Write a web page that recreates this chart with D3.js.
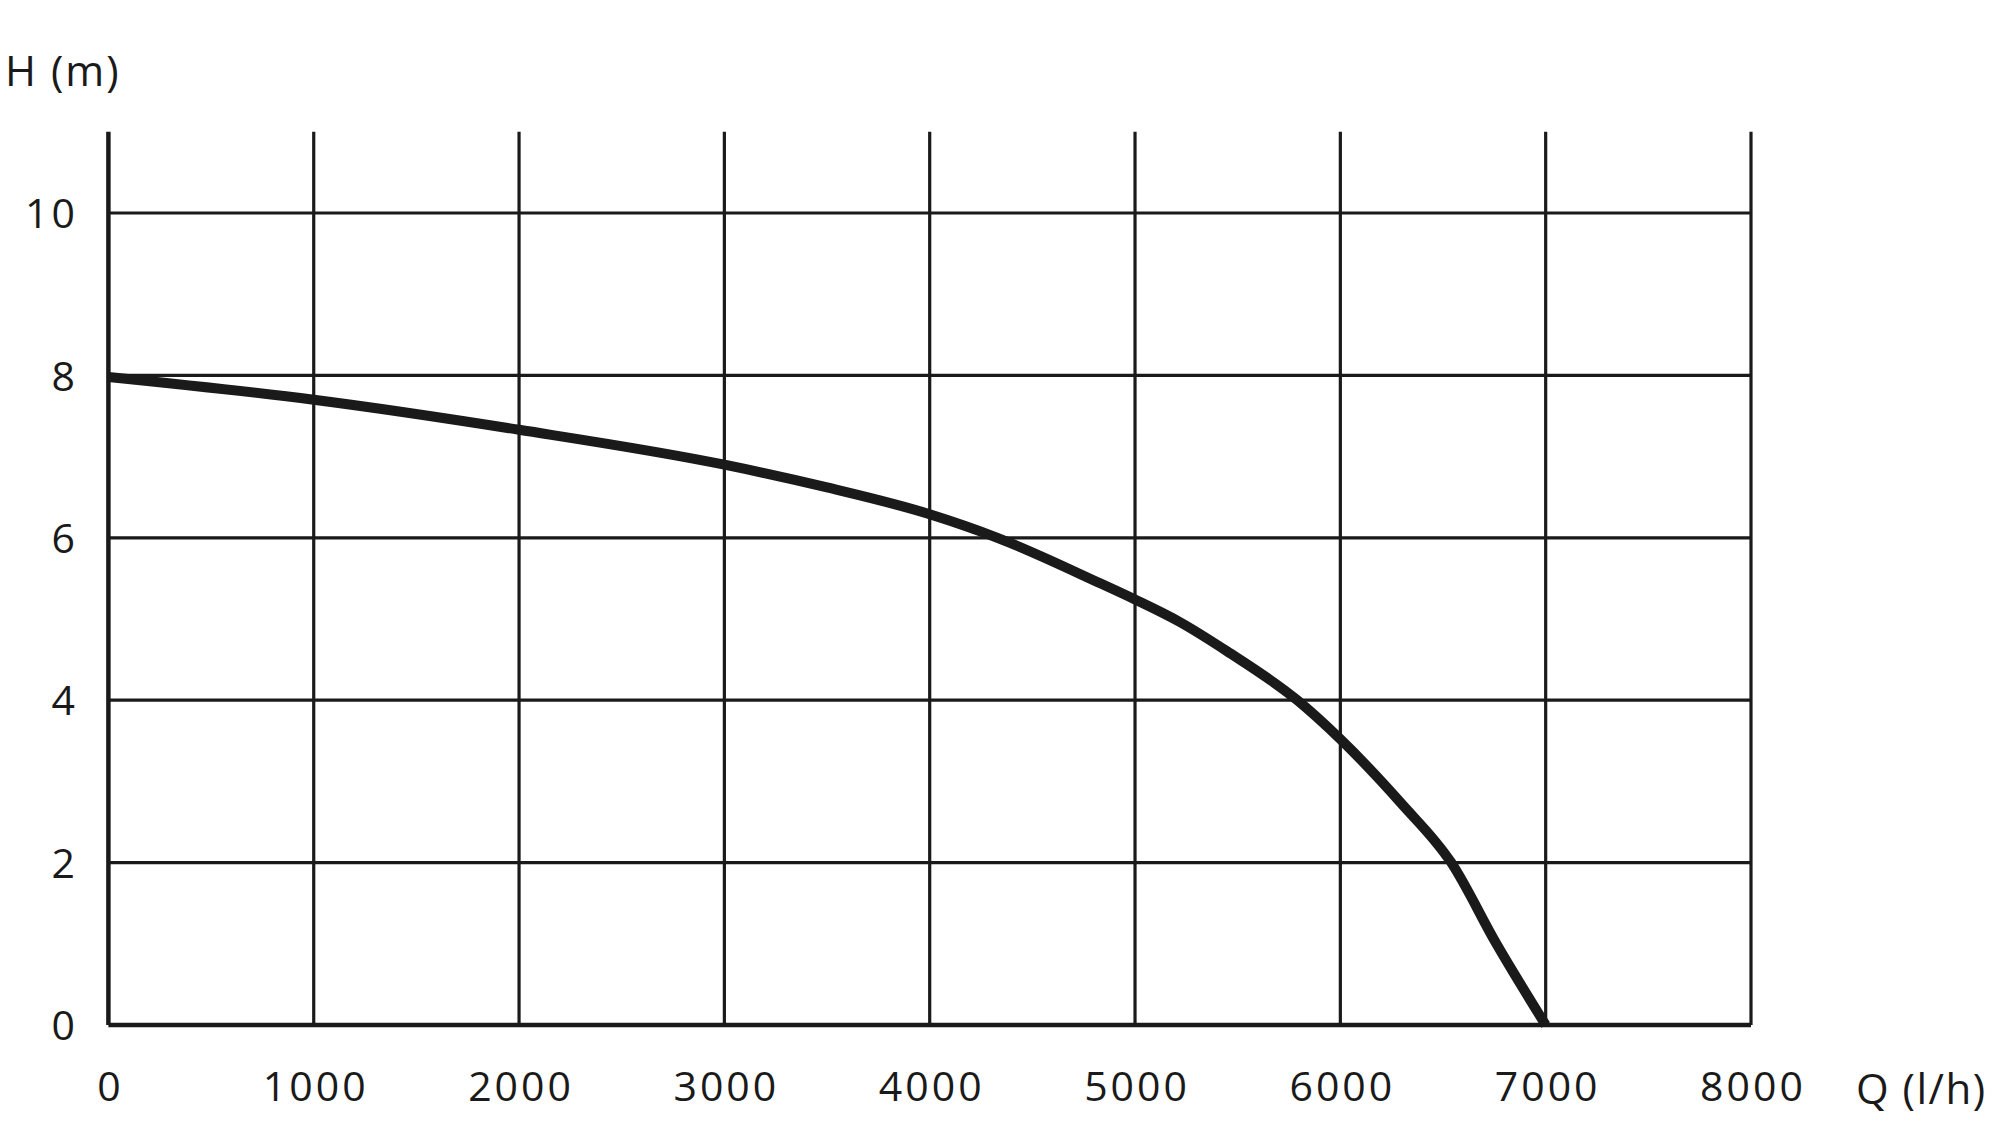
<!DOCTYPE html>
<html>
<head>
<meta charset="utf-8">
<script src="https://cdn.jsdelivr.net/npm/d3@7"></script>
<style>
  html, body { margin: 0; padding: 0; background: #fff; }
  svg { display: block; }
  text { font-family: "Open Sans", Lato, sans-serif; fill: #1a1a1a; }
</style>
</head>
<body>
<svg id="chart" width="2000" height="1138"></svg>
<script>
// Data
const flowQ = [0, 1000, 2000, 3000, 3500, 4000, 4330, 4830, 5000, 5220, 5450, 5790, 6000, 6300, 6540, 6760, 7000];
const headH = [7.98, 7.70, 7.33, 6.9, 6.62, 6.29, 6.0, 5.44, 5.24, 4.96, 4.6, 4.0, 3.52, 2.72, 2.0, 1.0, 0.0];
const xTicks = [0, 1000, 2000, 3000, 4000, 5000, 6000, 7000, 8000];
const yTicks = [0, 2, 4, 6, 8, 10];
const xTitle = "Q (l/h)";
const yTitle = "H (m)";

const svg = d3.select("#chart");
const ink = "#1a1a1a";

const x = d3.scaleLinear().domain([0, 8000]).range([108.4, 1751]);
const y = d3.scaleLinear().domain([0, 11]).range([1025, 131.8]);

// vertical grid lines
svg.append("g").selectAll("line").data(xTicks).join("line")
  .attr("x1", d => x(d)).attr("x2", d => x(d))
  .attr("y1", y(0)).attr("y2", y(11))
  .attr("stroke", ink).attr("stroke-width", d => d === 0 ? 4.5 : 3.2);

// horizontal grid lines
svg.append("g").selectAll("line").data(yTicks).join("line")
  .attr("x1", x(0)).attr("x2", x(8000))
  .attr("y1", d => y(d)).attr("y2", d => y(d))
  .attr("stroke", ink).attr("stroke-width", d => d === 0 ? 4.5 : 3.2);

// x axis labels
const xAxis = d3.axisBottom(x).tickValues(xTicks).tickSize(0).tickPadding(0).tickFormat(d3.format("d"));
const gx = svg.append("g").attr("transform", `translate(1.5, 1101)`).call(xAxis);
gx.select(".domain").remove();
gx.selectAll("text").attr("dy", 0).attr("y", 0)
  .style("font-size", "41px").style("letter-spacing", "3px")
  .style("font-family", "'Open Sans', Lato, sans-serif").attr("fill", ink);

// y axis labels
const yAxis = d3.axisLeft(y).tickValues(yTicks).tickSize(0).tickPadding(0).tickFormat(d3.format("d"));
const gy = svg.append("g").attr("transform", `translate(78, 0)`).call(yAxis);
gy.select(".domain").remove();
gy.selectAll("text").attr("x", 0).attr("dy", "0.36em")
  .style("font-size", "41px").style("letter-spacing", "3px")
  .style("font-family", "'Open Sans', Lato, sans-serif").attr("fill", ink);

// titles
svg.append("text").attr("x", 5).attr("y", 86).attr("font-size", 42)
  .style("letter-spacing", "2px").text(yTitle);
svg.append("text").attr("x", 1856).attr("y", 1104).attr("font-size", 42)
  .style("letter-spacing", "1.5px").text(xTitle);

// curve
const pts = flowQ.map((q, i) => [q, headH[i]]);
const line = d3.line().x(d => x(d[0])).y(d => y(d[1])).curve(d3.curveMonotoneX);
svg.append("path").attr("d", line(pts))
  .attr("fill", "none").attr("stroke", ink).attr("stroke-width", 10)
  .attr("stroke-linejoin", "round");
</script>
</body>
</html>
